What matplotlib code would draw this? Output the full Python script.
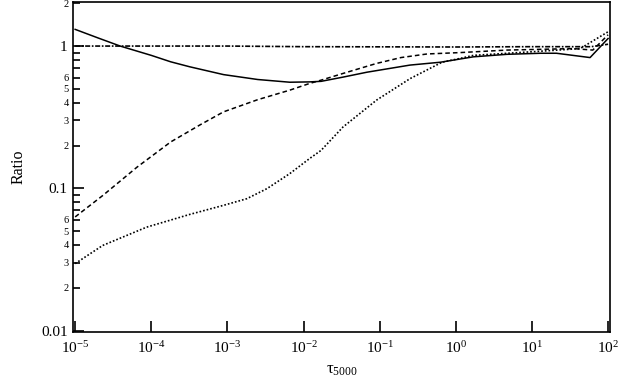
import numpy as np
import matplotlib
matplotlib.use('Agg')
import matplotlib.pyplot as plt
from matplotlib.ticker import FixedLocator, FixedFormatter

plt.rcParams['font.family'] = ['Liberation Serif', 'DejaVu Serif']
plt.rcParams['mathtext.fontset'] = 'custom'
plt.rcParams['mathtext.rm'] = 'Liberation Serif'
plt.rcParams['mathtext.it'] = 'Liberation Serif:italic'
plt.rcParams['mathtext.default'] = 'rm'

# data
tau_solid = [1e-5, 2e-5, 3.9e-5, 1e-4, 1.8e-4, 3.2e-4, 8.9e-4, 2.5e-3, 6.6e-3, 1.2e-2,
             1.7e-2, 3.3e-2, 6.8e-2, 0.25, 0.63, 1.7, 4.7, 13, 21, 58, 100]
ratio_solid = [1.31, 1.14, 1.0, 0.86, 0.775, 0.715, 0.63, 0.582, 0.557, 0.56,
               0.565, 0.605, 0.655, 0.735, 0.77, 0.84, 0.875, 0.89, 0.89, 0.83, 1.13]

tau_dashed = [1e-5, 2.3e-5, 6.5e-5, 1.8e-4, 4.4e-4, 8.9e-4, 2.5e-3, 6.6e-3, 1.2e-2,
              1.7e-2, 3.3e-2, 9.1e-2, 0.19, 0.42, 1.15, 4.7, 35, 63, 100]
ratio_dashed = [0.063, 0.089, 0.141, 0.212, 0.28, 0.345, 0.42, 0.49, 0.546,
                0.576, 0.642, 0.755, 0.83, 0.88, 0.90, 0.937, 0.96, 0.937, 1.2]

tau_dotted = [1e-5, 2.3e-5, 8.7e-5, 3.2e-4, 8.9e-4, 1.8e-3, 3.3e-3, 6.6e-3, 1.2e-2,
              1.7e-2, 3.3e-2, 9.1e-2, 0.25, 0.66, 1.15, 1.7, 13, 43, 100]
ratio_dotted = [0.0296, 0.0397, 0.0534, 0.0656, 0.076, 0.0846, 0.0995, 0.127, 0.162,
                0.185, 0.27, 0.417, 0.59, 0.77, 0.82, 0.86, 0.92, 0.96, 1.26]

tau_dashdot = [1e-5, 1e-3, 1e-2, 1, 10, 60, 100]
ratio_dashdot = [1.0, 1.0, 0.99, 0.985, 0.99, 0.99, 1.03]

fig = plt.figure(figsize=(6.2, 3.84), dpi=100)
ax = fig.add_axes([0.118, 0.135, 0.866, 0.860])

ax.plot(tau_solid, ratio_solid, color='black', lw=1.1, ls='-')
ax.plot(tau_dashed, ratio_dashed, color='black', lw=1.1, ls=(0, (3, 2)))
ax.plot(tau_dotted, ratio_dotted, color='black', lw=1.2, ls=(0, (1, 1.2)))
ax.plot(tau_dashdot, ratio_dashdot, color='black', lw=1.2, ls=(0, (3, 1, 1, 1)))

ax.set_xscale('log')
ax.set_yscale('log')
ax.set_xlim(10 ** (-5 - 2 / 76), 10 ** (2 + 2 / 76))
ax.set_ylim(10 ** (-2 - 1.5 / 142), 2 * 10 ** (1.3 / 142))

xt = [1e-5, 1e-4, 1e-3, 1e-2, 1e-1, 1, 10, 100]
xt_labels = [r'$10^{-5}$', r'$10^{-4}$', r'$10^{-3}$', r'$10^{-2}$', r'$10^{-1}$',
             r'$10^{0}$', r'$10^{1}$', r'$10^{2}$']
ax.xaxis.set_major_locator(FixedLocator(xt))
ax.xaxis.set_major_formatter(FixedFormatter(xt_labels))
ax.xaxis.set_minor_locator(FixedLocator([]))

yt = [0.01, 0.1, 1]
yt_labels = ['0.01', '0.1', '1']
ym = [0.02, 0.03, 0.04, 0.05, 0.06, 0.07, 0.08, 0.09,
      0.2, 0.3, 0.4, 0.5, 0.6, 0.7, 0.8, 0.9, 2]
ym_labels = ['2', '3', '4', '5', '6', '', '', '',
             '2', '3', '4', '5', '6', '', '', '', '2']
ax.yaxis.set_major_locator(FixedLocator(yt))
ax.yaxis.set_major_formatter(FixedFormatter(yt_labels))
ax.yaxis.set_minor_locator(FixedLocator(ym))
ax.yaxis.set_minor_formatter(FixedFormatter(ym_labels))

ax.tick_params(which='both', direction='in', top=False, right=False, width=1.2, color='black')
ax.tick_params(which='major', length=8, labelsize=11, pad=4)
ax.tick_params(axis='y', which='minor', length=5, labelsize=7.5, pad=3)
ax.tick_params(axis='x', which='major', pad=6)

for s in ax.spines.values():
    s.set_linewidth(1.2)

ax.set_xlabel(r'$\tau_{5000}$', fontsize=12, labelpad=4)
ax.set_ylabel('Ratio', fontsize=11.5, labelpad=10)

fig.savefig('out.png', dpi=100)
